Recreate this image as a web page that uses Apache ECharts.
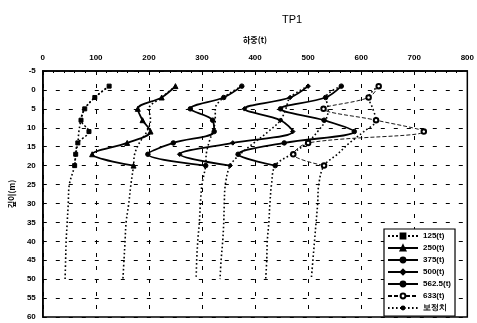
<!DOCTYPE html>
<html>
<head>
<meta charset="utf-8">
<script src="https://cdn.jsdelivr.net/npm/echarts@6/dist/echarts.min.js"></script>
<style>
  html, body { margin: 0; padding: 0; background: #fff; }
  #chart { width: 477px; height: 323px; }
</style>
</head>
<body>
<div id="chart"></div>
<script>
// Gauge depths (m) for the measured axial load profiles
const gaugeDepths = [-1, 2, 5, 8, 11, 14, 17, 20];
// Depths (m) used for the corrected (보정치) profiles, extended to the pile tip
const corrDepths = [-1, 2, 5, 8, 11, 14, 17, 20, 25, 30, 35, 40, 45, 50];

// Measured axial load (t) at each gauge, per applied load step
const meas125 = [125, 98, 79, 72, 87, 66, 62, 60];
const meas250 = [250, 224, 179, 188, 203, 159, 93, 171];
const meas375 = [375, 341, 278, 320, 323, 246, 198, 307];
const meas500 = [500, 466, 380, 448, 471, 358, 258, 353];
const meas5625 = [562.5, 533, 448, 530, 587, 455, 368, 438];
const meas633 = [633, 614, 529, 628, 718, 500, 472, 530];

// Corrected axial load (t) profiles
const corr125 = [125, 98, 79, 72, 68, 66, 62, 60, 50, 48, 46, 44, 43, 42];
const corr250 = [250, 224, 200, 203, 196, 182, 173, 171, 166, 162, 157, 155, 153, 151];
const corr375 = [375, 341, 325, 325, 320, 313, 308, 307, 300, 297, 295, 292, 290, 289];
const corr500 = [500, 466, 458, 448, 425, 398, 372, 353, 344, 342, 341, 339, 336, 334];
const corr5625 = [562.5, 533, 538, 533, 518, 498, 468, 438, 431, 428, 426, 423, 422, 420];
const corr633 = [633, 614, 622, 628, 605, 578, 555, 530, 520, 518, 515, 512, 509, 506];

const seriesNames = ['125(t)', '250(t)', '375(t)', '500(t)', '562.5(t)', '633(t)'];
const corrName = '보정치';

// Tick label values
const xTicks = [0, 100, 200, 300, 400, 500, 600, 700, 800];
const yTicks = [-5, 0, 5, 10, 15, 20, 25, 30, 35, 40, 45, 50, 55, 60];

const pair = (vals, deps) => vals.map((v, i) => [v, deps[i]]);

const measured = [meas125, meas250, meas375, meas500, meas5625, meas633];
const corrected = [corr125, corr250, corr375, corr500, corr5625, corr633];

const markers = [
  { symbol: 'rect', size: 4, line: { type: [2, 2], width: 1.5 } },
  { symbol: 'triangle', size: 5, line: { type: 'solid', width: 1.8 } },
  { symbol: 'circle', size: 4.5, line: { type: 'solid', width: 1.8 } },
  { symbol: 'diamond', size: 4.5, line: { type: 'solid', width: 1.8 } },
  { symbol: 'circle', size: 4.5, line: { type: 'solid', width: 1.8 } },
  { symbol: 'emptyCircle', size: 4.5, line: { type: [4, 2], width: 0.9 } }
];

const series = [];
measured.forEach((vals, i) => {
  series.push({
    name: seriesNames[i],
    type: 'line',
    data: pair(vals, gaugeDepths),
    smooth: 0.35,
    symbol: markers[i].symbol,
    symbolSize: markers[i].size,
    showAllSymbol: true,
    itemStyle: { color: '#000', borderColor: '#000', borderWidth: 1 },
    lineStyle: { color: '#000', width: markers[i].line.width, type: markers[i].line.type },
    z: 3
  });
});
corrected.forEach((vals) => {
  series.push({
    name: corrName,
    type: 'line',
    data: pair(vals, corrDepths),
    smooth: 0.35,
    symbol: 'none',
    itemStyle: { color: '#000' },
    lineStyle: { color: '#000', width: 1.6, type: [1.6, 2.4] },
    z: 2
  });
});

const chart = echarts.init(document.getElementById('chart'), null, { renderer: 'canvas' });
const labelFont = { fontFamily: 'Liberation Sans, Arial, sans-serif', fontSize: 8, fontWeight: 'bold', color: '#000' };

chart.setOption({
  animation: false,
  backgroundColor: '#fff',
  title: {
    text: 'TP1',
    left: 287,
    top: 9,
    textAlign: 'center',
    textStyle: { fontFamily: 'Liberation Sans, Arial, sans-serif', fontSize: 11, fontWeight: 'normal', color: '#000' }
  },
  grid: {
    left: 36, right: 5, top: 71, bottom: 6,
    show: true, borderColor: '#000', borderWidth: 1.5, backgroundColor: 'transparent'
  },
  legend: {
    orient: 'vertical',
    left: 384,
    top: 229,
    data: seriesNames.concat([corrName]),
    backgroundColor: '#fff',
    borderColor: '#000',
    borderWidth: 1.2,
    borderRadius: 0,
    padding: [3, 4, 4, 3],
    itemGap: 4,
    itemWidth: 30,
    itemHeight: 6,
    textStyle: labelFont
  },
  xAxis: {
    type: 'value',
    position: 'top',
    min: xTicks[0],
    max: xTicks[xTicks.length - 1],
    interval: 100,
    name: '하중(t)',
    nameLocation: 'middle',
    nameGap: 27,
    nameTextStyle: { fontFamily: 'Noto Sans CJK KR, sans-serif', fontSize: 8, fontWeight: 'bold', color: '#000' },
    axisLine: { show: true, onZero: false, lineStyle: { color: '#000', width: 1.5 } },
    axisTick: { show: true, inside: true, length: 4, lineStyle: { color: '#000' } },
    minorTick: { show: true, splitNumber: 5, length: 2, lineStyle: { color: '#000' } },
    axisLabel: Object.assign({ margin: 9, showMaxLabel: true }, labelFont),
    splitLine: { show: true, lineStyle: { color: '#000', width: 1, type: [4, 9] } }
  },
  yAxis: {
    type: 'value',
    inverse: true,
    min: yTicks[0],
    max: yTicks[yTicks.length - 1],
    interval: 5,
    name: '깊이(m)',
    nameLocation: 'middle',
    nameGap: 26,
    nameRotate: 90,
    nameTextStyle: { fontFamily: 'Noto Sans CJK KR, sans-serif', fontSize: 8, fontWeight: 'bold', color: '#000' },
    axisLine: { show: true, onZero: false, lineStyle: { color: '#000', width: 1.5 } },
    axisTick: { show: true, inside: true, length: 3, lineStyle: { color: '#000' } },
    axisLabel: Object.assign({ margin: 7 }, labelFont),
    splitLine: { show: true, lineStyle: { color: '#000', width: 1, type: [4, 9] } }
  },
  series: series
});
</script>
</body>
</html>
